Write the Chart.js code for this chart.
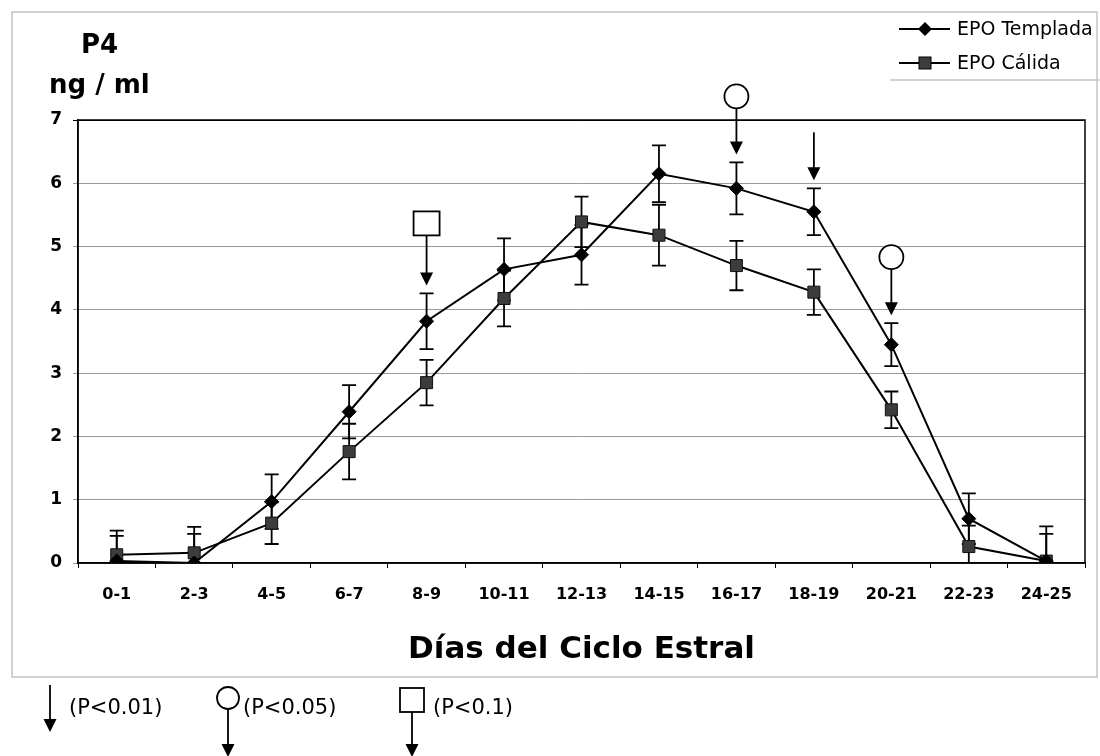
<!DOCTYPE html>
<html>
<head>
<meta charset="utf-8">
<script src="https://cdn.jsdelivr.net/npm/chart.js@4/dist/chart.umd.min.js"></script>
<style>
  body { margin: 0; background: #fff; }
  canvas { display: block; }
</style>
</head>
<body>
<canvas id="p4Chart" width="1100" height="756"></canvas>
<script>
// días del ciclo estral
var categories = ["0-1", "2-3", "4-5", "6-7", "8-9", "10-11", "12-13", "14-15", "16-17", "18-19", "20-21", "22-23", "24-25"];

// P4 ng/ml, mean and error
var templada = [0.03, 0.0, 0.97, 2.39, 3.82, 4.64, 4.87, 6.15, 5.92, 5.55, 3.45, 0.70, 0.03];
var templadaErr = [0.48, 0.57, 0.43, 0.42, 0.44, 0.49, 0.47, 0.45, 0.41, 0.37, 0.34, 0.40, 0.55];
var calida = [0.13, 0.16, 0.63, 1.76, 2.85, 4.18, 5.39, 5.18, 4.70, 4.28, 2.42, 0.26, 0.03];
var calidaErr = [0.30, 0.30, 0.33, 0.44, 0.36, 0.44, 0.40, 0.48, 0.39, 0.36, 0.29, 0.33, 0.43];

// significance marks: arrow = P<0.01, circle = P<0.05, square = P<0.1
var sigMarks = [null, null, null, null, "square", null, null, null, "circle", "arrow", "circle", null, null];

var yTicks = [0, 1, 2, 3, 4, 5, 6, 7];

var FONT = "'DejaVu Sans', sans-serif";

function arrowDown(ctx, x, yTop, yTip) {
  ctx.beginPath();
  ctx.moveTo(x, yTop);
  ctx.lineTo(x, yTip - 12);
  ctx.stroke();
  ctx.beginPath();
  ctx.moveTo(x - 6.5, yTip - 13);
  ctx.lineTo(x + 6.5, yTip - 13);
  ctx.lineTo(x, yTip);
  ctx.closePath();
  ctx.fill();
}

function circleMark(ctx, x, y, r) {
  ctx.beginPath();
  ctx.arc(x, y, r, 0, Math.PI * 2);
  ctx.fillStyle = "#fff";
  ctx.fill();
  ctx.stroke();
  ctx.fillStyle = "#000";
}

function squareMark(ctx, x, y, w, h) {
  ctx.fillStyle = "#fff";
  ctx.fillRect(x - w / 2, y - h / 2, w, h);
  ctx.strokeRect(x - w / 2, y - h / 2, w, h);
  ctx.fillStyle = "#000";
}

var overlay = {
  id: "overlay",
  beforeDatasetsDraw: function(chart) {
    var ctx = chart.ctx, a = chart.chartArea;
    var xs = chart.scales.x, ys = chart.scales.y;
    ctx.save();
    ctx.strokeStyle = "#000";
    ctx.lineWidth = 1.5;
    ctx.strokeRect(a.left, a.top, a.right - a.left, a.bottom - a.top);
    ctx.beginPath();
    ctx.rect(a.left, a.top - 2, a.right - a.left, a.bottom - a.top + 2);
    ctx.clip();
    ctx.lineWidth = 1.8;
    [[templada, templadaErr], [calida, calidaErr]].forEach(function(s) {
      s[0].forEach(function(v, i) {
        var x = xs.getPixelForValue(i);
        var hi = ys.getPixelForValue(v + s[1][i]);
        var lo = ys.getPixelForValue(v - s[1][i]);
        ctx.beginPath();
        ctx.moveTo(x, hi); ctx.lineTo(x, lo);
        ctx.moveTo(x - 7, hi); ctx.lineTo(x + 7, hi);
        ctx.moveTo(x - 7, lo); ctx.lineTo(x + 7, lo);
        ctx.stroke();
      });
    });
    ctx.restore();
  },
  afterDraw: function(chart) {
    var ctx = chart.ctx;
    var xs = chart.scales.x, ys = chart.scales.y;
    ctx.save();

    // scanned chart frame
    ctx.strokeStyle = "#c4c4c4";
    ctx.lineWidth = 1.5;
    ctx.strokeRect(12, 12, 1085, 665);
    ctx.beginPath();
    ctx.moveTo(890, 80); ctx.lineTo(1100, 80);
    ctx.stroke();

    ctx.fillStyle = "#000";
    ctx.strokeStyle = "#000";
    ctx.textBaseline = "alphabetic";
    ctx.font = "bold 26px " + FONT;
    ctx.fillText("P4", 81, 53);
    ctx.fillText("ng / ml", 49, 93);

    // legend
    ctx.lineWidth = 1.8;
    ctx.font = "19px " + FONT;
    ctx.textBaseline = "middle";
    ctx.beginPath();
    ctx.moveTo(899, 29); ctx.lineTo(950, 29);
    ctx.moveTo(899, 63); ctx.lineTo(950, 63);
    ctx.stroke();
    ctx.beginPath();
    ctx.moveTo(925, 22); ctx.lineTo(932, 29); ctx.lineTo(925, 36); ctx.lineTo(918, 29);
    ctx.closePath();
    ctx.fill();
    ctx.fillStyle = "#3c3c3c";
    ctx.fillRect(919, 57, 12, 12);
    ctx.lineWidth = 1;
    ctx.strokeRect(919, 57, 12, 12);
    ctx.fillStyle = "#000";
    ctx.fillText("EPO Templada", 957, 30);
    ctx.fillText("EPO Cálida", 957, 64);

    // significance marks above the Templada error bars
    ctx.lineWidth = 1.8;
    sigMarks.forEach(function(m, i) {
      if (!m) return;
      var x = xs.getPixelForValue(i);
      var tip = ys.getPixelForValue(templada[i] + templadaErr[i]) - 8;
      if (m === "arrow") {
        arrowDown(ctx, x, tip - 48, tip);
      } else if (m === "circle") {
        arrowDown(ctx, x, tip - 46, tip);
        circleMark(ctx, x, tip - 58, 12);
      } else {
        arrowDown(ctx, x, tip - 50, tip);
        squareMark(ctx, x, tip - 62, 26, 24);
      }
    });

    // key below the chart
    ctx.font = "21px " + FONT;
    ctx.textBaseline = "middle";
    arrowDown(ctx, 50, 685, 732);
    ctx.fillText("(P<0.01)", 69, 709);
    arrowDown(ctx, 228, 709, 757);
    circleMark(ctx, 228, 698, 11);
    ctx.fillText("(P<0.05)", 243, 709);
    arrowDown(ctx, 412, 712, 757);
    squareMark(ctx, 412, 700, 24, 24);
    ctx.fillText("(P<0.1)", 433, 709);

    ctx.restore();
  }
};

new Chart(document.getElementById("p4Chart"), {
  type: "line",
  data: {
    labels: categories,
    datasets: [{
      label: "EPO Templada",
      data: templada,
      borderColor: "#000",
      borderWidth: 2,
      backgroundColor: "#000",
      pointStyle: "rectRot",
      pointRadius: 7,
      pointBorderColor: "#000",
      pointBorderWidth: 1,
      tension: 0
    }, {
      label: "EPO Cálida",
      data: calida,
      borderColor: "#000",
      borderWidth: 2,
      backgroundColor: "#3c3c3c",
      pointStyle: "rect",
      pointRadius: 8.5,
      pointBorderColor: "#111",
      pointBorderWidth: 1,
      tension: 0
    }]
  },
  options: {
    responsive: false,
    animation: false,
    layout: { padding: { top: 120, right: 15, bottom: 79, left: 0 } },
    plugins: {
      legend: { display: false },
      tooltip: { enabled: false }
    },
    scales: {
      x: {
        offset: true,
        afterFit: function(s) { s.height = 114; },
        border: { display: true, color: "#000", width: 1.5 },
        grid: { offset: true, drawOnChartArea: false, drawTicks: true, tickLength: 5, color: "#000" },
        ticks: { color: "#000", padding: 17, font: { family: FONT, size: 16, weight: "bold" }, maxRotation: 0 },
        title: {
          display: true,
          text: "Días del Ciclo Estral",
          color: "#000",
          font: { family: FONT, size: 31, weight: "bold" },
          padding: { top: 0, bottom: 8 }
        }
      },
      y: {
        min: 0,
        max: 7,
        afterFit: function(s) { s.width = 78; },
        afterBuildTicks: function(s) { s.ticks = yTicks.map(function(v) { return { value: v }; }); },
        border: { display: true, color: "#000", width: 1.5 },
        grid: {
          tickLength: 5,
          lineWidth: 1,
          color: function(c) { return c.tick && c.tick.value === 7 ? "#000" : "#9a9a9a"; }
        },
        ticks: { color: "#000", padding: 11, font: { family: FONT, size: 17, weight: "bold" } }
      }
    }
  },
  plugins: [overlay]
});
</script>
</body>
</html>
